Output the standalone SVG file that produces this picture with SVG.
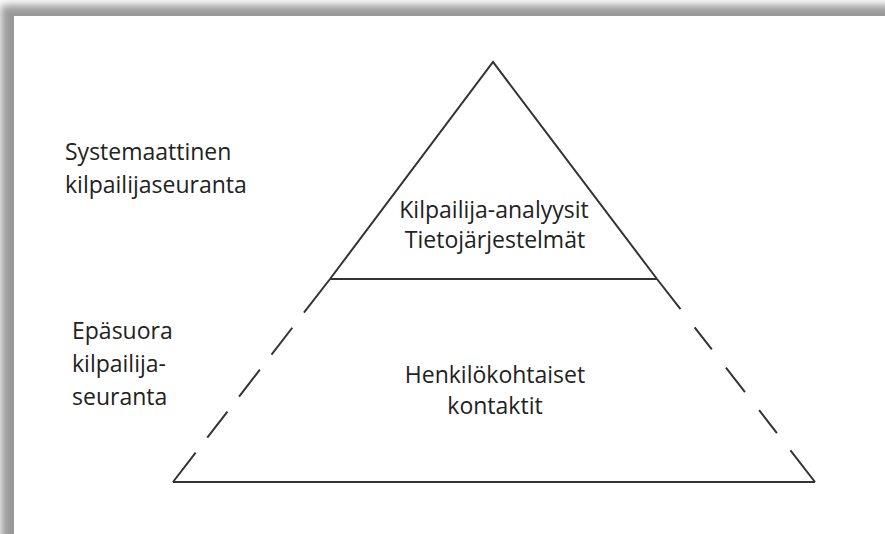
<svg xmlns="http://www.w3.org/2000/svg" width="885" height="534" viewBox="0 0 885 534">
  <defs>
    <filter id="soft" x="-10%" y="-10%" width="120%" height="120%">
      <feGaussianBlur stdDeviation="4"/>
    </filter>
    <style>
      .lbl { font-family: "Open Sans", "Noto Sans", sans-serif; font-size: 23px; fill: #222; }
      .mid { text-anchor: middle; }
      .edge { stroke: #333; stroke-width: 2; fill: none; stroke-linecap: butt; }
    </style>
  </defs>

  <!-- page with drop shadow along the top and left -->
  <rect x="0" y="0" width="885" height="534" fill="#ffffff"/>
  <rect x="1" y="5" width="920" height="560" fill="#999999" filter="url(#soft)"/>
  <rect x="14" y="16" width="871" height="518" fill="#ffffff"/>

  <!-- pyramid outline -->
  <g id="connectors">
    <path class="edge" d="M330 279 L493 62 L657 279"/>
    <line class="edge" x1="173" y1="482" x2="330" y2="279" stroke-dasharray="37 19 33 19 34 19 34 19 200"/>
    <line class="edge" x1="815" y1="482" x2="657" y2="279" stroke-dasharray="40 22 29 23 31 23 28 23 200"/>
    <line class="edge" x1="330" y1="279" x2="657" y2="279" stroke="#1a1a1a"/>
    <line class="edge" x1="173" y1="482" x2="815" y2="482" stroke="#555" stroke-width="3"/>
  </g>

  <g id="systematic-label">
    <text class="lbl" x="65" y="160">Systemaattinen</text>
    <text class="lbl" x="65" y="193">kilpailijaseuranta</text>
  </g>

  <g id="indirect-label">
    <text class="lbl" x="72" y="339">Epäsuora</text>
    <text class="lbl" x="72" y="372">kilpailija-</text>
    <text class="lbl" x="72" y="405">seuranta</text>
  </g>

  <g id="top-tier">
    <text class="lbl mid" x="494" y="218">Kilpailija-analyysit</text>
    <text class="lbl mid" x="495" y="248">Tietojärjestelmät</text>
  </g>

  <g id="bottom-tier">
    <text class="lbl mid" x="495" y="383">Henkilökohtaiset</text>
    <text class="lbl mid" x="495" y="414">kontaktit</text>
  </g>
</svg>
